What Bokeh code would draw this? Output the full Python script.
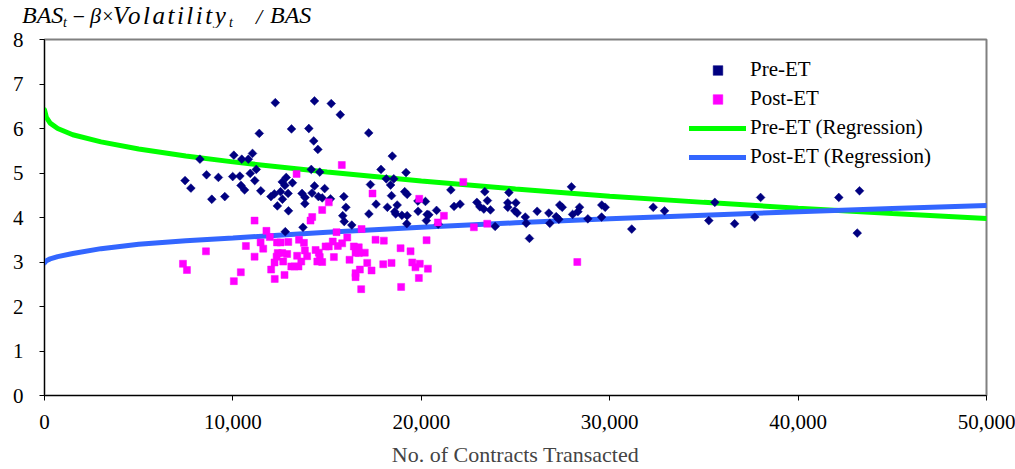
from bokeh.plotting import figure
from bokeh.models import (Range1d, FixedTicker, NumeralTickFormatter, Div,
                          Legend, LegendItem)
from bokeh.layouts import column
from bokeh.embed import file_html
from bokeh.resources import INLINE

# ---------------- data ----------------
pre_x = [7460, 7770, 8250, 8600, 9230, 8880, 9570, 9990, 10050, 10370,
         10430, 10470, 10620, 10820, 11040, 10920, 11240, 11160, 11400, 11480,
         12020, 12200, 12250, 12360, 12530, 12620, 12830, 12760, 12930, 12630,
         13160, 13110, 12950, 12780, 13670, 13830, 13820, 13720, 14030, 14160,
         14200, 14290, 14330, 14330, 14510, 14610, 14540, 14740, 14870, 15180,
         15220, 15700, 15890, 16000, 15830, 15910, 16310, 17210, 17300, 17220,
         17600, 17860, 18140, 18460, 18540, 18370, 18420, 18200, 18590, 18640,
         18720, 18970, 19190, 19120, 19250, 19250, 19230, 19830, 19820, 20220,
         20310, 20400, 20270, 20810, 20900, 21570, 21740, 22060, 22950, 23110,
         23320, 23370, 23510, 23670, 23920, 24650, 24590, 24590, 25020, 24960,
         25090, 25520, 25570, 25740, 26150, 26770, 26820, 27160, 27300, 27350,
         27480, 27970, 28030, 28310, 28400, 28840, 29580, 29760, 29570, 31170,
         32310, 32910, 35580, 35260, 36630, 37700, 38010, 42160, 43260, 43140]
pre_y = [4.83, 4.66, 5.31, 4.96, 4.90, 4.41, 4.47, 4.92, 5.40, 4.93,
         4.72, 5.31, 4.62, 5.31, 5.44, 4.99, 5.08, 4.83, 5.89, 4.60,
         4.47, 4.53, 6.58, 4.26, 4.58, 4.80, 4.90, 4.72, 4.54, 4.41,
         4.78, 5.99, 4.15, 3.68, 4.54, 4.45, 4.31, 3.78, 6.00, 5.08,
         4.55, 5.72, 4.71, 6.62, 5.53, 5.02, 4.47, 4.44, 4.65, 4.42,
         6.56, 6.31, 4.47, 4.23, 4.04, 3.91, 3.83, 5.90, 4.74, 4.08,
         4.30, 5.08, 4.87, 5.38, 4.87, 4.73, 4.49, 4.23, 4.13, 4.08,
         4.28, 4.05, 5.01, 4.58, 4.52, 4.04, 3.86, 4.14, 4.37, 4.36,
         4.07, 4.06, 3.93, 4.16, 3.85, 4.62, 4.25, 4.30, 4.34, 4.24,
         4.19, 4.58, 4.38, 4.17, 3.80, 4.56, 4.33, 4.23, 4.33, 4.15,
         4.10, 4.01, 3.87, 3.53, 4.14, 4.10, 3.87, 4.02, 3.96, 4.28,
         4.23, 4.69, 4.07, 4.13, 4.23, 3.97, 4.28, 4.23, 4.01, 3.74,
         4.23, 4.15, 4.34, 3.93, 3.86, 4.01, 4.45, 4.45, 4.60, 3.65]

post_x = [7350, 7560, 8570, 10050, 10420, 10690, 11150, 11150, 11470, 11610,
          11780, 11960, 12030, 12220, 12210, 12320, 12380, 12340, 12530, 12620,
          12670, 12740, 12940, 12880, 13100, 13270, 13410, 13480, 13510, 13630,
          13770, 13820, 13940, 14120, 14210, 14390, 14560, 14610, 14480, 14740,
          14740, 15090, 14920, 15090, 15300, 15360, 15570, 15800, 15500, 16070,
          16190, 16420, 16680, 16510, 16680, 17000, 17130, 16740, 16510, 16510,
          17360, 16830, 17570, 18010, 17980, 18420, 16810, 18900, 19430, 19520,
          19690, 19920, 20350, 19870, 18930, 20280, 20880, 21200, 22230, 19890,
          22790, 23500, 28280, 15780, 17410, 13380]
post_y = [2.96, 2.82, 3.24, 2.57, 2.77, 3.36, 3.93, 3.12, 3.44, 3.30,
          3.70, 3.56, 2.83, 2.62, 2.99, 3.12, 3.20, 3.44, 3.44, 3.20,
          3.01, 2.71, 3.45, 3.18, 2.90, 2.90, 3.14, 2.90, 3.50, 3.01,
          3.43, 3.26, 3.13, 3.93, 4.01, 3.27, 3.21, 3.11, 3.01, 3.00,
          4.17, 4.34, 3.35, 3.35, 3.46, 3.11, 3.36, 3.42, 3.67, 3.55,
          3.05, 3.35, 3.33, 3.21, 3.20, 3.21, 2.98, 2.83, 2.75, 2.66,
          2.81, 3.74, 3.50, 3.48, 2.95, 2.98, 2.39, 3.31, 3.24, 2.99,
          2.88, 2.96, 2.85, 2.64, 2.44, 3.49, 3.89, 4.04, 4.80, 4.42,
          3.78, 3.86, 3.00, 5.18, 4.54, 4.98]

reg_x = [0, 100, 300, 700, 1500, 3000, 5000, 7500, 10000, 15000,
         20000, 25000, 30000, 35000, 40000, 45000, 50000]
pre_reg_y = [6.42, 6.25, 6.12, 6.00, 5.86, 5.70, 5.54, 5.38, 5.25, 5.02,
             4.82, 4.64, 4.48, 4.34, 4.21, 4.09, 3.98]
post_reg_y = [2.98, 3.03, 3.07, 3.12, 3.19, 3.30, 3.40, 3.48, 3.54, 3.67,
              3.78, 3.88, 3.97, 4.05, 4.13, 4.20, 4.27]

x_ticks = [0, 10000, 20000, 30000, 40000, 50000]
y_ticks = [0, 1, 2, 3, 4, 5, 6, 7, 8]

series_names = ["Pre-ET", "Post-ET", "Pre-ET (Regression)", "Post-ET (Regression)"]
x_title = "No. of Contracts Transacted"

FONT = "Liberation Serif"

# ---------------- figure ----------------
p = figure(width=1015, height=442, x_range=Range1d(0, 50000), y_range=Range1d(0, 8),
           output_backend="svg", toolbar_location=None,
           min_border_left=44, min_border_right=29, min_border_top=12, min_border_bottom=73)
p.background_fill_color = "white"
p.border_fill_color = "white"
p.outline_line_color = "#808080"
p.outline_line_width = 2
p.xgrid.grid_line_color = None
p.ygrid.grid_line_color = None

for ax in (p.xaxis[0], p.yaxis[0]):
    ax.axis_line_color = "black"
    ax.axis_line_width = 1
    ax.major_tick_line_color = "black"
    ax.major_tick_in = 0
    ax.major_tick_out = 5
    ax.minor_tick_line_color = None
    ax.major_label_text_font = FONT
    ax.major_label_text_font_size = "21px"
    ax.major_label_text_color = "black"
    ax.major_label_text_line_height = 1.0

p.xaxis.ticker = FixedTicker(ticks=x_ticks)
p.xaxis.formatter = NumeralTickFormatter(format="0,0")
p.xaxis.major_label_standoff = 14
p.xaxis.axis_label = x_title
p.xaxis.axis_label_text_font = FONT
p.xaxis.axis_label_text_font_style = "normal"
p.xaxis.axis_label_text_font_size = "22px"
p.xaxis.axis_label_text_line_height = 1.0
p.xaxis.axis_label_standoff = 10

p.yaxis.ticker = FixedTicker(ticks=y_ticks)
p.yaxis.major_label_standoff = 16

# regression curves
r_pre_reg = p.line(reg_x, pre_reg_y, line_color="#00FF00", line_width=5, line_cap="round")
r_post_reg = p.line(reg_x, post_reg_y, line_color="#3366FF", line_width=5, line_cap="round")

# points
r_pre = p.scatter(pre_x, pre_y, marker="square", size=6.2, angle=0.785398,
                  fill_color="#000080", line_color="#000080", line_width=0.5)
r_post = p.scatter(post_x, post_y, marker="square", size=7,
                   fill_color="#FF00FF", line_color="#FF00FF", line_width=0.5)

legend = Legend(items=[LegendItem(label=series_names[0], renderers=[r_pre]),
                       LegendItem(label=series_names[1], renderers=[r_post]),
                       LegendItem(label=series_names[2], renderers=[r_pre_reg]),
                       LegendItem(label=series_names[3], renderers=[r_post_reg])],
                location=(645, 226), orientation="vertical",
                glyph_width=57, glyph_height=24, spacing=4, padding=0, margin=0,
                label_standoff=4, label_text_font=FONT, label_text_font_size="21px",
                label_text_color="black", border_line_color=None,
                background_fill_alpha=0)
p.add_layout(legend)

# title: italic formula with subscripts (text, left, top, size, letter spacing)
title_parts = [("BAS", 22, 2, 24, 0), ("t", 63, 9, 14, 0),
               ("\u2212", 71, 3, 22, 0), ("\u03b2", 90, 2, 22, 0),
               ("\u00d7", 101, 3, 20, 0), ("Volatility", 113, 2, 25, 2.5),
               ("t", 229, 9, 14, 0), ("/", 256, 3, 22, 0), ("BAS", 270, 2, 24, 0)]
spans = "".join(
    '<span style="position:absolute;left:%dpx;top:%dpx;font-size:%dpx;line-height:27px;'
    'letter-spacing:%spx;white-space:nowrap;">%s</span>' % (lx, ty, fs, ls, txt)
    for txt, lx, ty, fs, ls in title_parts)
title_html = ('<div style="position:relative;width:1015px;height:27px;'
              "font-family:'Liberation Serif',serif;font-style:italic;color:black;\">"
              + spans + "</div>")
title_div = Div(text=title_html, width=1015, height=27, margin=(0, 0, 0, 0))

layout = column(title_div, p, spacing=0)
open("out.html", "w").write(file_html(layout, INLINE))
